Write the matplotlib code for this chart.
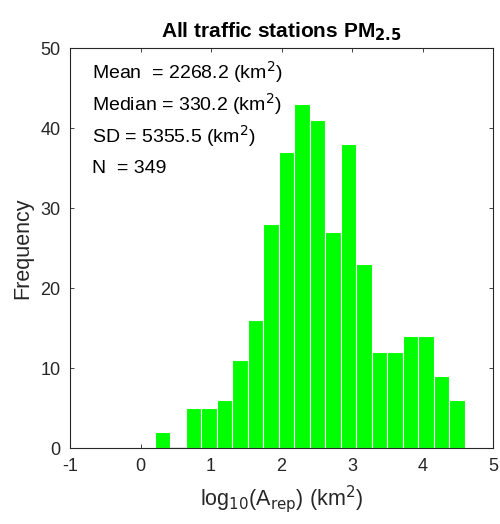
import numpy as np
import matplotlib.pyplot as plt

plt.rcParams['font.family'] = ['Liberation Sans', 'DejaVu Sans']
plt.rcParams['axes.unicode_minus'] = False

# histogram bins (log10 of representative area, km^2) and counts
bin_start = 0.2
bin_width = 0.22
counts = [2, 0, 5, 5, 6, 11, 16, 28, 37, 43, 41, 27, 38, 23, 12, 12, 14, 14, 9, 6]

stats_labels = ['Mean  = 2268.2 (km$^2$)', 'Median = 330.2 (km$^2$)',
                'SD = 5355.5 (km$^2$)', 'N  = 349']
stats_y = [47, 43, 39, 35]

edges = bin_start + bin_width * np.arange(len(counts) + 1)

fig = plt.figure(figsize=(5.0, 5.24), dpi=100)
ax = fig.add_axes([0.14, 0.145, 0.846, 0.763])

ax.bar(edges[:-1], counts, width=bin_width, align='edge',
       color=(0, 1, 0), edgecolor='white', linewidth=0.8, zorder=2)
# empty bins drawn as a grey baseline, like MATLAB does
for i, c in enumerate(counts):
    if c == 0:
        ax.plot([edges[i], edges[i + 1]], [0, 0], color='#888888', lw=1, zorder=3)

ax.set_xlim(-1, 5)
ax.set_ylim(0, 50)
ax.set_xticks(range(-1, 6))
ax.set_yticks(range(0, 51, 10))
ax.tick_params(direction='in', top=True, right=True, labelsize=13,
               length=3, width=0.6, colors='#262626', pad=7)
for s in ax.spines.values():
    s.set_color('#262626')
    s.set_linewidth(0.8)

for lab, yy in zip(stats_labels, stats_y):
    ax.text(-0.69, yy, lab, fontsize=14, va='center', ha='left', color='black')

ax.set_title('All traffic stations PM$_{\\mathbf{2.5}}$', fontsize=15,
             fontweight='bold', pad=8)
ax.set_xlabel('log$_{10}$(A$_{\\mathrm{rep}}$) (km$^2$)', fontsize=15.5,
              color='#262626', labelpad=6)
ax.set_ylabel('Frequency', fontsize=15.5, color='#262626', labelpad=5)

fig.savefig('out.png', dpi=100)
